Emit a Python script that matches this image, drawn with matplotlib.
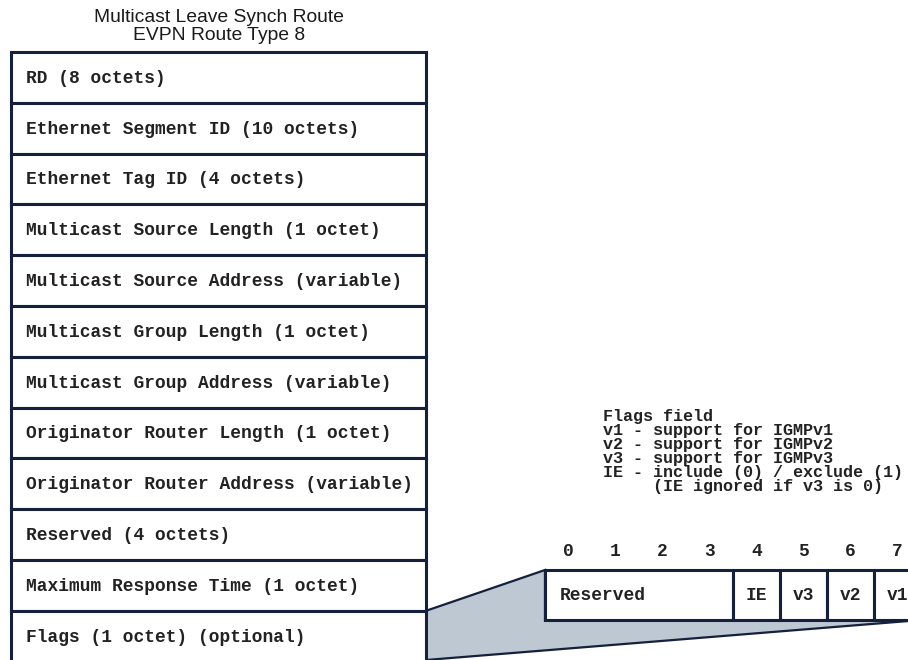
import numpy as np
import matplotlib.pyplot as plt
from matplotlib.patches import Polygon, Rectangle

# route fields, top to bottom
fields = ["RD (8 octets)",
          "Ethernet Segment ID (10 octets)",
          "Ethernet Tag ID (4 octets)",
          "Multicast Source Length (1 octet)",
          "Multicast Source Address (variable)",
          "Multicast Group Length (1 octet)",
          "Multicast Group Address (variable)",
          "Originator Router Length (1 octet)",
          "Originator Router Address (variable)",
          "Reserved (4 octets)",
          "Maximum Response Time (1 octet)",
          "Flags (1 octet) (optional)"]
title_lines = ["Multicast Leave Synch Route", "EVPN Route Type 8"]

# flags byte
bit_labels = ["0", "1", "2", "3", "4", "5", "6", "7"]
flag_names = ["Reserved", "IE", "v3", "v2", "v1"]
flag_bits = [4, 1, 1, 1, 1]
notes = ["Flags field",
         "v1 - support for IGMPv1",
         "v2 - support for IGMPv2",
         "v3 - support for IGMPv3",
         "IE - include (0) / exclude (1)",
         "     (IE ignored if v3 is 0)"]

line_c = "#14203c"
fill_c = "#bec8d2"
txt_c = "#222222"
mono = "Liberation Mono"
lw = 2.2
fs = 12.9

if __name__ == "__main__":
    fig = plt.figure(figsize=(9.08, 6.6), dpi=100)
    ax = fig.add_axes([0, 0, 1, 1])
    ax.set_xlim(0, 908)
    ax.set_ylim(660, 0)
    ax.axis("off")

    # title
    for i, t in enumerate(title_lines):
        ax.text(219, 17 + i * 18.5, t, ha="center", va="center",
                fontsize=13.9, family="Liberation Sans", color="#1a1a1a")

    # left stack of fields
    x0, x1 = 11, 426
    top, rh = 52, 50.8
    for i, f in enumerate(fields):
        y = top + i * rh
        ax.add_patch(Rectangle((x0, y), x1 - x0, rh, facecolor="white",
                               edgecolor=line_c, lw=lw, zorder=2))
        ax.text(26, y + rh / 2 + 1, f, ha="left", va="center", fontsize=fs,
                family=mono, weight="bold", color=txt_c, zorder=3)

    # zoom wedge
    bx, by, bh, bw = 545, 570, 50, 47
    bend = bx + bw * sum(flag_bits)
    ytop_flags = top + 11 * rh
    wedge = Polygon([(x1, ytop_flags), (bx, by), (bx, by + bh), (bend, by + bh),
                     (x1, 660)], closed=True, facecolor=fill_c,
                    edgecolor=line_c, lw=1.6, zorder=1)
    ax.add_patch(wedge)

    # flags byte box
    cx = bx
    for name, nb in zip(flag_names, flag_bits):
        ax.add_patch(Rectangle((cx, by), nb * bw, bh, facecolor="white",
                               edgecolor=line_c, lw=lw, zorder=4))
        if nb > 1:
            ax.text(cx + 15, by + bh / 2 + 1, name, ha="left", va="center",
                    fontsize=fs, family=mono, weight="bold",
                    color=txt_c, zorder=5)
        else:
            ax.text(cx + nb * bw / 2, by + bh / 2 + 1, name, ha="center",
                    va="center", fontsize=fs, family=mono, weight="bold",
                    color=txt_c, zorder=5)
        cx += nb * bw

    for i, b in enumerate(bit_labels):
        ax.text(bx + bw * (i + 0.5), 552, b, ha="center", va="center",
                fontsize=fs, family=mono, weight="bold", color=txt_c)

    # notes
    for i, n in enumerate(notes):
        ax.text(603, 416 + i * 14.2, n, ha="left", va="center", fontsize=12.1,
                family=mono, weight="bold", color=txt_c)

    fig.savefig("out.png", dpi=100)
